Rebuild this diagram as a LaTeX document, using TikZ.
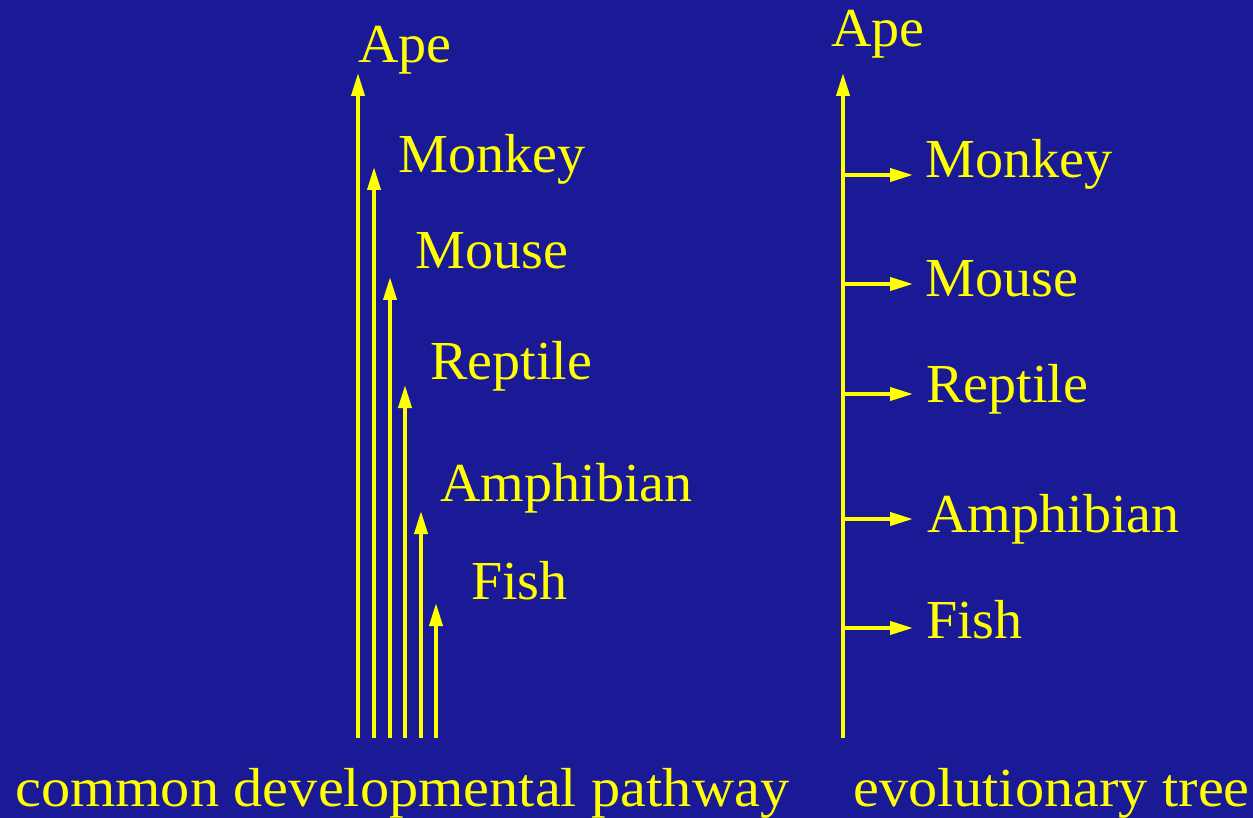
\documentclass[tikz,border=0pt]{standalone}
\usepackage{fontspec}
\setmainfont[FakeStretch=1.02]{Liberation Serif}
\newfontfamily\capfont[FakeStretch=1.06]{Liberation Serif}
\usetikzlibrary{arrows.meta}
\definecolor{bgblue}{HTML}{1A1A96}
\definecolor{ylw}{HTML}{FFFF00}
\begin{document}
\begin{tikzpicture}[x=1pt,y=-1pt,
  arr/.style={ylw,line width=3.8pt,-{Triangle[length=23pt,width=13pt]}},
  lbl/.style={text=ylw,anchor=base west,inner sep=0pt,font=\fontsize{55}{64}\selectfont},
  captionlbl/.style={lbl,font=\fontsize{55}{64}\capfont}]
\fill[bgblue] (0,0) rectangle (1253,818);
\useasboundingbox (0,0) rectangle (1253,818);
% left: common developmental pathway
\foreach \n/\x/\t in {a/358/73,b/374/167,c/390/277,d/405/385,e/421/511,f/436/603}{
  \coordinate (L\n0) at (\x,738);
  \coordinate (L\n1) at (\x,\t);
  \draw[arr] (L\n0) -- (L\n1);
}
\node[lbl] (lape) at (358,63) {Ape};
\node[lbl] (lmonkey) at (398,173) {Monkey};
\node[lbl] (lmouse) at (415,269) {Mouse};
\node[lbl] (lreptile) at (430,379) {Reptile};
\node[lbl] (lamph) at (440,501) {Amphibian};
\node[lbl] (lfish) at (471,599) {Fish};
\node[captionlbl] (lcap) at (15,806) {common developmental pathway};
% right: evolutionary tree
\coordinate (R0) at (843,738);
\coordinate (R1) at (843,73);
\draw[arr] (R0) -- (R1);
\foreach \n/\y in {a/175,b/284,c/394,d/519,e/628}{
  \coordinate (B\n0) at (843,\y);
  \coordinate (B\n1) at (913,\y);
  \draw[arr] (B\n0) -- (B\n1);
}
\node[lbl] (rape) at (831,47) {Ape};
\node[lbl] (rmonkey) at (925,178) {Monkey};
\node[lbl] (rmouse) at (925,297) {Mouse};
\node[lbl] (rreptile) at (926,402) {Reptile};
\node[lbl] (ramph) at (927,532) {Amphibian};
\node[lbl] (rfish) at (926,638) {Fish};
\node[captionlbl] (rcap) at (853,806) {evolutionary tree};
\end{tikzpicture}
\end{document}
